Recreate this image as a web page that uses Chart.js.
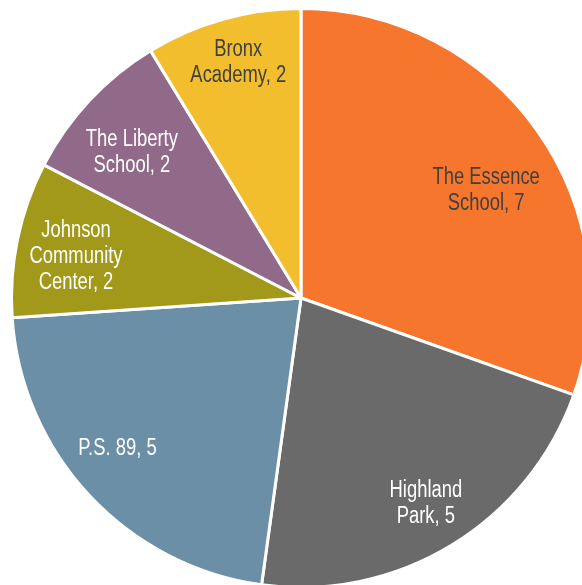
<!DOCTYPE html>
<html>
<head>
  <title>Sites</title>
  <script src="https://cdn.jsdelivr.net/npm/chart.js"></script>
  <style>
    body { margin: 0; background: #fff; overflow: hidden; }
    #wrap { position: absolute; left: 0; top: 0; width: 602px; height: 596px; }
  </style>
</head>
<body>
  <div id="wrap"><canvas id="chart" width="602" height="596"></canvas></div>

  <script>
    const categories = [
      ['The Essence', 'School'],
      ['Highland', 'Park'],
      ['P.S. 89'],
      ['Johnson', 'Community', 'Center'],
      ['The Liberty', 'School'],
      ['Bronx', 'Academy']
    ];
    const counts = [7, 5, 5, 2, 2, 2];
    const colors = ['#F6762D', '#6A6A6A', '#6A8FA7', '#A2991A', '#906A88', '#F3BE2E'];
    const labelColors = ['#404040', '#ffffff', '#ffffff', '#ffffff', '#ffffff', '#404040'];

    // label placement: fraction of radius, angle shift in degrees
    const labelPlace = [
      { r: 0.74, a: 5 },
      { r: 0.83, a: 0 },
      { r: 0.82, a: 3.7 },
      { r: 0.79, a: -1.4 },
      { r: 0.77, a: -2.4 },
      { r: 0.84, a: 0.7 }
    ];

    const sliceLabels = {
      id: 'sliceLabels',
      afterDatasetsDraw(chart) {
        const ctx = chart.ctx;
        const meta = chart.getDatasetMeta(0);
        ctx.save();
        ctx.font = '23px "Liberation Sans", Arial, sans-serif';
        ctx.textAlign = 'center';
        ctx.textBaseline = 'middle';
        meta.data.forEach((arc, i) => {
          const p = arc.getProps(['x', 'y', 'startAngle', 'endAngle', 'outerRadius'], true);
          const mid = (p.startAngle + p.endAngle) / 2 + labelPlace[i].a * Math.PI / 180;
          const cx = p.x + Math.cos(mid) * p.outerRadius * labelPlace[i].r;
          const cy = p.y + Math.sin(mid) * p.outerRadius * labelPlace[i].r;
          const lines = categories[i].slice();
          lines[lines.length - 1] += ', ' + counts[i];
          const lh = 26;
          const top = cy - (lines.length - 1) * lh / 2;
          ctx.fillStyle = labelColors[i];
          lines.forEach((t, j) => {
            // narrow face like Arial Narrow
            ctx.save();
            ctx.translate(cx, top + j * lh);
            ctx.scale(0.8, 1);
            ctx.fillText(t, 0, 0);
            ctx.restore();
          });
        });
        ctx.restore();
      }
    };

    new Chart(document.getElementById('chart'), {
      type: 'pie',
      data: {
        labels: categories.map(c => c.join(' ')),
        datasets: [{
          data: counts,
          backgroundColor: colors,
          borderColor: '#ffffff',
          borderWidth: 3,
          hoverOffset: 0
        }]
      },
      options: {
        responsive: false,
        animation: false,
        devicePixelRatio: 1,
        layout: { padding: 7 },
        plugins: {
          legend: { display: false },
          tooltip: { enabled: false }
        }
      },
      plugins: [sliceLabels]
    });
  </script>
</body>
</html>
